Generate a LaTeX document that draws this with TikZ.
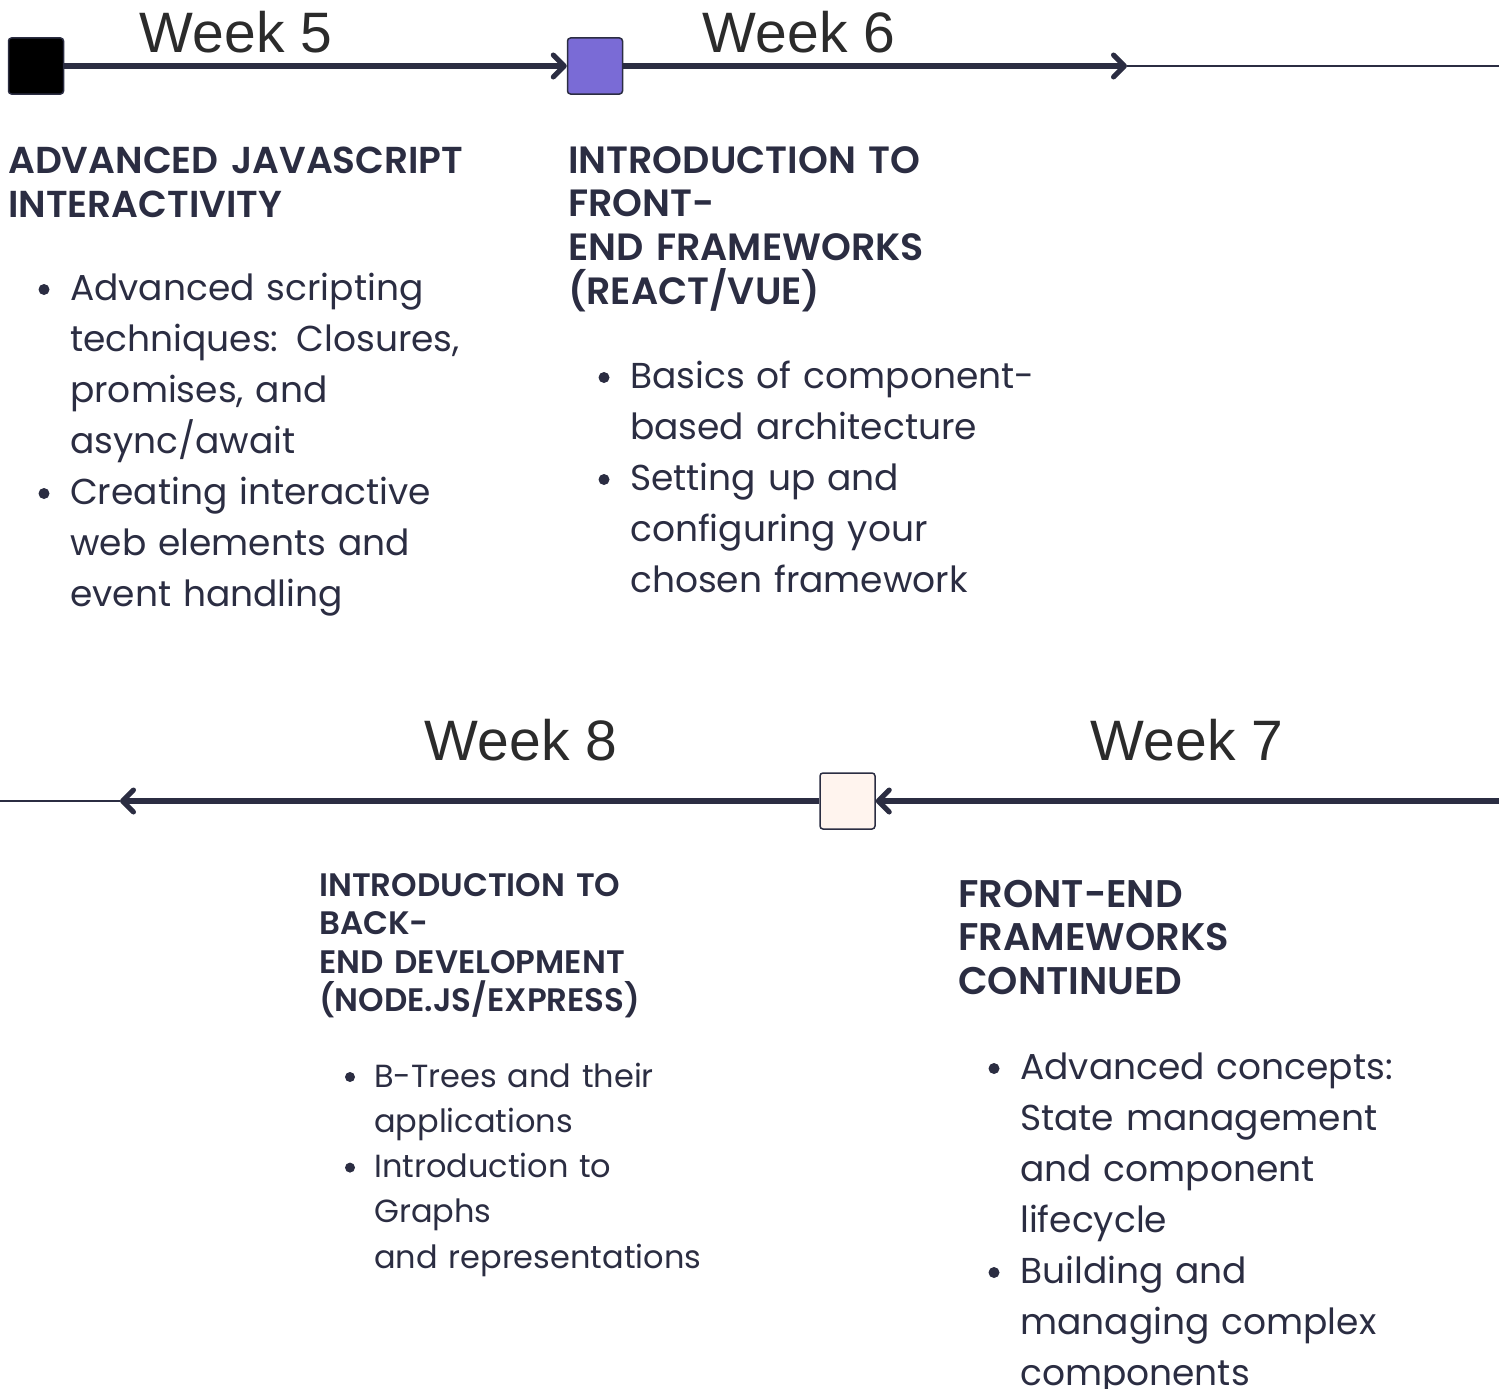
\documentclass[tikz,border=0pt]{standalone}
\usepackage{fontspec}
\setmainfont{Poppins}[BoldFont={Poppins SemiBold}]
\newfontfamily\weekfont{Liberation Sans}
\usetikzlibrary{arrows.meta,positioning}
\definecolor{navy}{HTML}{2B2D42}
\definecolor{lavender}{HTML}{7A6BD6}
\definecolor{peach}{HTML}{FFF4EE}
\definecolor{ink}{HTML}{2B2B2B}
\tikzset{
  weekbox/.style={draw=navy, line width=1.5pt, rounded corners=3pt,
    minimum width=55pt, minimum height=56pt, inner sep=0pt},
  trackline/.style={navy, line width=6.5pt},
  tracktip/.style={-{Straight Barb[length=11pt,width=22pt,line width=5pt,round]}},
  trackthin/.style={navy, line width=1.5pt},
  weeklabel/.style={font=\weekfont\fontsize{57}{60}\selectfont, text=ink,
    anchor=base, inner sep=0pt},
  headtext/.style={font=\bfseries\fontsize{37.5}{44}\selectfont, text=navy,
    anchor=base west, align=left, text width=600pt, inner sep=0pt},
  itemtext/.style={font=\fontsize{36}{51}\selectfont, text=navy,
    anchor=base west, align=left, text width=600pt, inner sep=0pt},
  dotmark/.style={circle, fill=navy, minimum size=11pt, inner sep=0pt}
}
\begin{document}
\begin{tikzpicture}[x=1pt,y=-1pt]
  \useasboundingbox (0,0) rectangle (1499,1389);

  % upper track
  \node[weekbox, fill=black] (w5) at (36,66) {};
  \node[weekbox, fill=lavender] (w6) at (595,66) {};
  \coordinate (e6) at (1127,66);
  \coordinate (r6) at (1499,66);
  \draw[trackline, tracktip] (w5) -- (w6);
  \draw[trackline, tracktip] (w6) -- (e6);
  \draw[trackthin] (e6) -- (r6);

  % lower track
  \node[weekbox, fill=peach] (w7) at (847.5,801) {};
  \coordinate (r7) at (1499,801);
  \coordinate (e8) at (120,801);
  \coordinate (l8) at (0,801);
  \draw[trackline, tracktip] (r7) -- (w7);
  \draw[trackline, tracktip] (w7) -- (e8);
  \draw[trackthin] (e8) -- (l8);

  \foreach \n/\x/\y in {5/236/53, 6/799/53, 8/521/760, 7/1187/760}
    \node[weeklabel] (lab\n) at (\x,\y) {Week \n};

  % week 5
  \node[headtext] (h5) at (8,173) {ADVANCED JAVASCRIPT\\INTERACTIVITY};
  \node[itemtext] (i5a) at (70,300.5) {Advanced scripting\\techniques: Closures,\\promises, and\\async/await};
  \node[itemtext] (i5b) at (70,504.5) {Creating interactive\\web elements and\\event handling};
  \node[dotmark] (d5a) at ([xshift=-26pt,yshift=11pt]i5a.base west) {};
  \node[dotmark] (d5b) at ([xshift=-26pt,yshift=11pt]i5b.base west) {};

  % week 6
  \node[headtext, font=\bfseries\fontsize{38}{43.7}\selectfont] (h6) at (568,173)
    {INTRODUCTION TO\\FRONT-\\END FRAMEWORKS\\(REACT/VUE)};
  \node[itemtext] (i6a) at (630,388.5) {Basics of component-\\based architecture};
  \node[itemtext] (i6b) at (630,490.5) {Setting up and\\configuring your\\chosen framework};
  \node[dotmark] (d6a) at ([xshift=-26pt,yshift=11pt]i6a.base west) {};
  \node[dotmark] (d6b) at ([xshift=-26pt,yshift=11pt]i6b.base west) {};

  % week 8
  \node[headtext, font=\bfseries\fontsize{32.5}{38.5}\selectfont] (h8) at (319,896)
    {INTRODUCTION TO\\BACK-\\END DEVELOPMENT\\(NODE.JS/EXPRESS)};
  \node[itemtext, font=\fontsize{32}{45.3}\selectfont] (i8a) at (374,1087)
    {B-Trees and their\\applications};
  \node[itemtext, font=\fontsize{32}{45.3}\selectfont] (i8b) at (374,1177.6)
    {Introduction to\\Graphs\\and representations};
  \node[dotmark, minimum size=10pt] (d8a) at ([xshift=-24pt,yshift=10pt]i8a.base west) {};
  \node[dotmark, minimum size=10pt] (d8b) at ([xshift=-24pt,yshift=10pt]i8b.base west) {};

  % week 7
  \node[headtext, font=\bfseries\fontsize{38.5}{43.5}\selectfont] (h7) at (958,907)
    {FRONT-END\\FRAMEWORKS\\CONTINUED};
  \node[itemtext] (i7a) at (1020,1079.5) {Advanced concepts:\\State management\\and component\\lifecycle};
  \node[itemtext] (i7b) at (1020,1283.5) {Building and\\managing complex\\components};
  \node[dotmark] (d7a) at ([xshift=-26pt,yshift=11pt]i7a.base west) {};
  \node[dotmark] (d7b) at ([xshift=-26pt,yshift=11pt]i7b.base west) {};
\end{tikzpicture}
\end{document}
